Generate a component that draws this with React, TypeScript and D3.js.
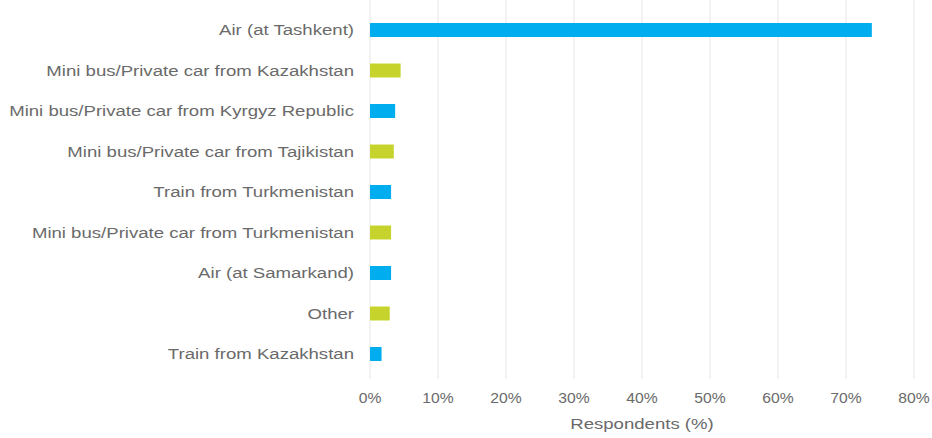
import React, { useEffect, useRef } from "react";
import * as d3 from "d3";

const categories = [
  "Air (at Tashkent)",
  "Mini bus/Private car from Kazakhstan",
  "Mini bus/Private car from Kyrgyz Republic",
  "Mini bus/Private car from Tajikistan",
  "Train from Turkmenistan",
  "Mini bus/Private car from Turkmenistan",
  "Air (at Samarkand)",
  "Other",
  "Train from Kazakhstan",
];
const values = [73.8, 4.5, 3.7, 3.5, 3.1, 3.1, 3.1, 2.9, 1.7];
const barColors = ["#00AEEF", "#C5D32C"];
const tickValues = [0, 10, 20, 30, 40, 50, 60, 70, 80];
const axisTitle = "Respondents (%)";

export default function App() {
  const ref = useRef<SVGSVGElement>(null);
  useEffect(() => {
    const svg = d3.select(ref.current);
    svg.selectAll("*").remove();
    const W = 932, H = 438;
    const left = 370, right = 914, top = 9.75, bottom = 374.25;
    const x = d3.scaleLinear().domain([0, 80]).range([left, right]);
    const y = d3.scaleBand().domain(categories).range([top, bottom]).paddingInner(0.655).paddingOuter(0.3275);
    const font = "'Liberation Sans', Arial, sans-serif";
    const textColor = "#6a6a6a";

    // gridlines
    svg.append("g").selectAll("line").data(tickValues).join("line")
      .attr("x1", d => x(d)).attr("x2", d => x(d))
      .attr("y1", 0).attr("y2", bottom + 5)
      .attr("stroke", "#e6e6e6").attr("stroke-width", 1);

    // bars
    svg.append("g").selectAll("rect").data(values).join("rect")
      .attr("x", x(0))
      .attr("y", (_d, i) => y(categories[i])!)
      .attr("width", d => x(d) - x(0))
      .attr("height", y.bandwidth())
      .attr("fill", (_d, i) => barColors[i % 2]);

    // category labels
    svg.append("g").selectAll("text").data(categories).join("text")
      .attr("transform", d => `translate(354,${y(d)! + y.bandwidth() / 2}) scale(1.24,1)`)
      .attr("dy", "0.35em")
      .attr("text-anchor", "end")
      .attr("font-family", font)
      .attr("font-size", 15)
      .attr("fill", textColor)
      .text(d => d);

    // tick labels
    svg.append("g").selectAll("text").data(tickValues).join("text")
      .attr("transform", d => `translate(${x(d)},403) scale(1.12,1)`)
      .attr("text-anchor", "middle")
      .attr("font-family", font)
      .attr("font-size", 14)
      .attr("fill", textColor)
      .text(d => `${d}%`);

    svg.append("text")
      .attr("transform", `translate(${(left + right) / 2},429) scale(1.24,1)`)
      .attr("text-anchor", "middle")
      .attr("font-family", font)
      .attr("font-size", 15)
      .attr("fill", textColor)
      .text(axisTitle);
    svg.attr("width", W).attr("height", H);
  }, []);
  return (
    <svg ref={ref} width={932} height={438}
      style={{ position: "absolute", left: 0, top: 0, background: "#fff", display: "block" }} />
  );
}
